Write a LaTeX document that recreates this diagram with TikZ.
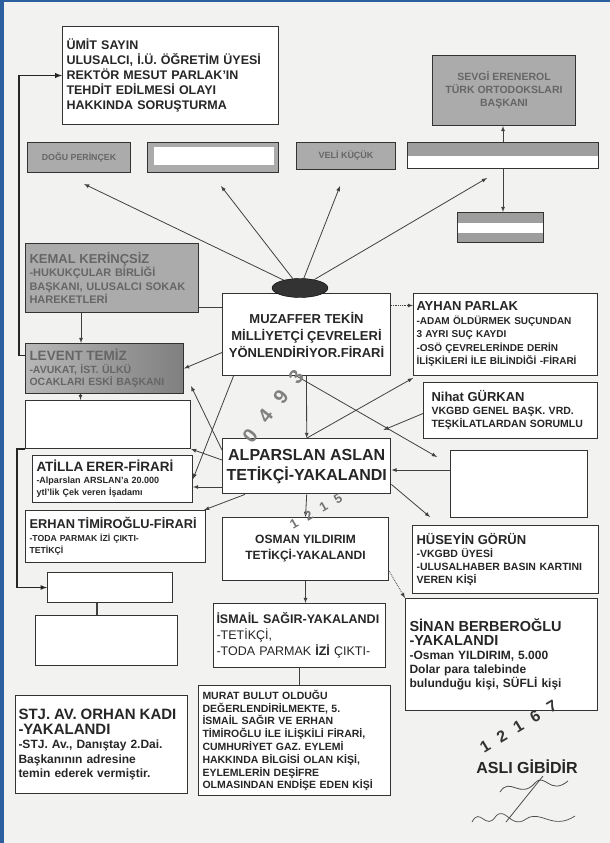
\documentclass[tikz,border=0pt]{standalone}
\usepackage{fontspec}
\setmainfont{Liberation Sans}
\usetikzlibrary{shapes.geometric,calc}
\definecolor{paper}{HTML}{F2F2F0}
\definecolor{frameblue}{HTML}{2B5F9E}
\newcommand{\fsz}[2]{\fontsize{#1}{#2}\selectfont}
\tikzset{
  box/.style={draw=black!80, line width=1pt, fill=white, anchor=north west, inner sep=3pt, text=black!85, font=\bfseries},
  greybox/.style={box, fill=black!33, text=black!60},
  link/.style={->, draw=black!75, line width=.8pt},
  conn/.style={draw=black!75, line width=.8pt},
  stamp/.style={inner sep=0pt, text=black!50, font=\bfseries\fsz{20}{20}},
}
\begin{document}
\begin{tikzpicture}[>=latex, x=1pt, y=-1pt]
\useasboundingbox (0,0) rectangle (610,843);
\fill[paper] (0,0) rectangle (610,843);
\fill[frameblue] (0,0) rectangle (4,843);
\fill[frameblue] (0,0) rectangle (610,2);

% top row
\node[box, minimum width=216pt, minimum height=98pt, text width=208pt, align=left, inner xsep=4pt, font=\bfseries\fsz{12.5}{15}] (umit) at (62,26) {ÜMİT SAYIN\\ULUSALCI, İ.Ü. ÖĞRETİM ÜYESİ\\REKTÖR MESUT PARLAK'IN\\TEHDİT EDİLMESİ OLAYI\\HAKKINDA SORUŞTURMA};
\node[greybox, minimum width=143pt, minimum height=70pt, align=center, font=\bfseries\fsz{10.5}{13}] (sevgi) at (432,55) {SEVGİ ERENEROL\\TÜRK ORTODOKSLARI\\BAŞKANI};
\node[greybox, minimum width=103pt, minimum height=30pt, font=\bfseries\fsz{8.8}{9}] (dogu) at (27,142) {DOĞU PERİNÇEK};
\node[greybox, minimum width=131pt, minimum height=30pt,
  path picture={\fill[white] ([shift={(6pt,-4pt)}]path picture bounding box.north west) rectangle ([shift={(-5pt,8pt)}]path picture bounding box.south east);}] (blankA) at (147,142) {};
\node[greybox, minimum width=99pt, minimum height=27pt, font=\bfseries\fsz{9}{9}] (veli) at (296,142) {VELİ KÜÇÜK};
\node[box, minimum width=191pt, minimum height=26pt,
  path picture={\fill[black!38] (path picture bounding box.north west) rectangle ([yshift=-13pt]path picture bounding box.north east);}] (longb) at (407,142) {};
\node[box, minimum width=86pt, minimum height=30pt,
  path picture={\fill[black!38] (path picture bounding box.north west) rectangle ([yshift=-10pt]path picture bounding box.north east);
    \fill[black!38] (path picture bounding box.south west) rectangle ([yshift=10pt]path picture bounding box.south east);}] (smallb) at (457,212) {};

% centre
\node[box, minimum width=168pt, minimum height=82pt, align=center, font=\bfseries\fsz{13}{17}] (muz) at (222,293) {MUZAFFER TEKİN\\MİLLİYETÇİ ÇEVRELERİ\\YÖNLENDİRİYOR.FİRARİ};
\node[ellipse, fill=black!80, draw=black, minimum width=56pt, minimum height=19pt, inner sep=0pt] (ell) at (300,288) {};
\node[box, line width=1.4pt, minimum width=168pt, minimum height=55pt, align=center, inner xsep=2pt, font=\bfseries\fsz{16}{20}] (alp) at (222,438) {ALPARSLAN ASLAN\\TETİKÇİ-YAKALANDI};
\node[box, minimum width=166pt, minimum height=63pt, align=center, font=\bfseries\fsz{12}{16}] (osman) at (222,517) {OSMAN YILDIRIM\\TETİKÇİ-YAKALANDI};
\node[box, minimum width=172pt, minimum height=64pt, text width=166pt, align=left, font=\fsz{12.5}{16}] (ismail) at (213,603) {\textbf{İSMAİL SAĞIR-YAKALANDI}\\-TETİKÇİ,\\-TODA PARMAK \textbf{İZİ} ÇIKTI-};
\node[box, minimum width=192pt, minimum height=110pt, text width=184pt, align=left, font=\bfseries\fsz{10.5}{12.8}] (murat) at (198,685) {MURAT BULUT OLDUĞU\\DEĞERLENDİRİLMEKTE, 5.\\İSMAİL SAĞIR VE ERHAN\\TİMİROĞLU İLE İLİŞKİLİ FİRARİ,\\CUMHURİYET GAZ. EYLEMİ\\HAKKINDA BİLGİSİ OLAN KİŞİ,\\EYLEMLERİN DEŞİFRE\\OLMASINDAN ENDİŞE EDEN KİŞİ};

% left column
\node[greybox, minimum width=173pt, minimum height=69pt, text width=165pt, align=left, font=\bfseries\fsz{11}{13.5}] (kemal) at (25,243) {{\fsz{13}{14}KEMAL KERİNÇSİZ}\\-HUKUKÇULAR BİRLİĞİ\\BAŞKANI, ULUSALCI SOKAK\\HAREKETLERİ};
\node[greybox, left color=black!28, right color=black!50, minimum width=158pt, minimum height=50pt, text width=150pt, align=left, font=\bfseries\fsz{10.5}{12.5}] (levent) at (25,343) {{\fsz{13.5}{14}LEVENT TEMİZ}\\-AVUKAT, İST. ÜLKÜ\\OCAKLARI ESKİ BAŞKANI};
\node[box, minimum width=165pt, minimum height=48pt] (blankB) at (25,400) {};
\node[box, minimum width=160pt, minimum height=47pt, text width=152pt, align=left, font=\bfseries\fsz{9}{12}] (atilla) at (32,455) {{\fsz{13.5}{13}ATİLLA ERER-FİRARİ}\\-Alparslan ARSLAN'a 20.000\\ytl'lik Çek veren İşadamı};
\node[box, minimum width=180pt, minimum height=52pt, text width=172pt, align=left, font=\bfseries\fsz{8.7}{12.5}] (erhan) at (25,510) {{\fsz{12.8}{13}ERHAN TİMİROĞLU-FİRARİ}\\-TODA PARMAK İZİ ÇIKTI-\\TETİKÇİ};
\node[box, minimum width=125pt, minimum height=30pt] (emptyA) at (47,572) {};
\node[box, minimum width=142pt, minimum height=50pt] (emptyB) at (35,615) {};
\node[box, minimum width=172pt, minimum height=98pt, text width=166pt, align=left, font=\bfseries\fsz{12}{14.5}] (stj) at (15,695) {{\fsz{15}{17}STJ. AV. ORHAN KADI}\\{\fsz{15}{17}-YAKALANDI}\\-STJ. Av., Danıştay 2.Dai.\\Başkanının adresine\\temin ederek vermiştir.};

% right column
\node[box, minimum width=184pt, minimum height=82pt, text width=178pt, align=left, font=\bfseries\fsz{10}{13.5}] (ayhan) at (413,293) {{\fsz{13}{14}AYHAN PARLAK}\\-ADAM ÖLDÜRMEK SUÇUNDAN\\3 AYRI SUÇ KAYDI\\-OSÖ ÇEVRELERİNDE DERİN\\İLİŞKİLERİ İLE BİLİNDİĞİ -FİRARİ};
\node[box, minimum width=174pt, minimum height=56pt, text width=158pt, align=left, inner xsep=8pt, font=\bfseries\fsz{10.5}{13}] (nihat) at (423,382) {{\fsz{13}{14}Nihat GÜRKAN}\\VKGBD GENEL BAŞK. VRD.\\TEŞKİLATLARDAN SORUMLU};
\node[box, minimum width=137pt, minimum height=67pt] (blankR) at (450,450) {};
\node[box, minimum width=186pt, minimum height=68pt, text width=178pt, align=left, font=\bfseries\fsz{10.5}{13}] (huseyin) at (412,525) {{\fsz{13}{14}HÜSEYİN GÖRÜN}\\-VKGBD ÜYESİ\\-ULUSALHABER BASIN KARTINI\\VEREN KİŞİ};
\node[box, minimum width=192pt, minimum height=112pt, text width=184pt, align=left, font=\bfseries\fsz{12}{14}] (sinan) at (405,598) {{\fsz{14.5}{18}SİNAN BERBEROĞLU}\\{\fsz{14.5}{18}-YAKALANDI}\\-Osman YILDIRIM, 5.000\\Dolar para talebinde\\bulunduğu kişi, SÜFLİ kişi};

% connectors
\draw[link, line width=1.4pt, draw=black!85] ([yshift=13pt]levent.west) -- ++(-6,0) |- (umit.west);
\draw[link, line width=1.2pt, draw=black!85] (blankB.south west) -- ++(-8,0) |- (emptyA.west);
\draw[conn, line width=1.4pt] ([xshift=-13pt]emptyA.south) -- ([xshift=-13pt]emptyA.south |- emptyB.north);
\draw[link] ([xshift=-31pt]kemal.south) -- ([xshift=-31pt]kemal.south |- levent.north);
\draw[link] ([xshift=-24pt]levent.south) -- ([xshift=-24pt]levent.south |- blankB.north);
\draw[conn] ([yshift=-29pt]kemal.east) -- ([yshift=-29pt]kemal.east -| muz.west);
\draw[link] ([yshift=-18pt]muz.west) -- (levent.east);
\foreach \t/\dx/\dy in {dogu/5/11, blankA/8/13, veli/-6/16, longb/-16/9}
  \draw[link] (ell) -- ($(\t.south)+(\dx,\dy)$);
\draw[link] (longb.north) -- (longb.north |- sevgi.south);
\draw[link] (longb.south) -- (longb.south |- smallb.north);
\draw[link, densely dotted] ([yshift=29pt]muz.east) -- ([yshift=29pt]muz.east -| ayhan.west);
\draw[link] (muz.south) -- (alp.north);
\draw[link] ([xshift=-10pt]muz.south) -- ($(blankR.north west)+(-13,7)$);
\draw[link] ([xshift=-73pt]muz.south) -- (atilla.east);
\draw[link] ([yshift=-12pt]alp.north west) -- ($(levent.south east)+(7,-8)$);
\draw[link] ([yshift=-22pt]alp.north west) -- (blankB.south east);
\draw[link] ([yshift=-49pt]alp.north west) -- ([yshift=-49pt]alp.north west -| atilla.east);
\draw[link] ([xshift=23pt]alp.south west) -- ($(erhan.north east)+(-2,0)$);
\draw[link] ([xshift=85pt]alp.north west) -- ($(ayhan.south west)+(0,2)$);
\draw[link] ([yshift=-3pt]nihat.west) -- ($(alp.north east)+(-8,-8)$);
\draw[link] ([yshift=-20pt]blankR.north west) -- ([yshift=-20pt]blankR.north west -| alp.east);
\draw[link] ([yshift=10pt]alp.south east) -- ($(huseyin.north west)+(18,-8)$);
\draw[link] (alp.south) -- (osman.north);
\draw[link, densely dotted] ([yshift=10pt]osman.south east) -- (sinan.north west);
\draw[link] (osman.south) -- (osman.south |- ismail.north);
\draw[conn] (ismail.south) -- (ismail.south |- murat.north);

% stamps and signature
\foreach \d [count=\i from 0] in {0,4,9,3}
  \node[stamp, rotate=52] (stampA\i) at ($(250,436)+\i*(15.4,-19.7)$) {\d};
\foreach \d [count=\i from 0] in {1,2,1,5}
  \node[stamp, rotate=30, text=black!55, font=\bfseries\fsz{13}{13}] (stampB\i) at ($(294,524)+\i*(14.7,-8.5)$) {\d};
\foreach \d [count=\i from 0] in {1,2,1,6,7}
  \node[stamp, rotate=31, text=black!80, font=\bfseries\fsz{16}{16}] (stampC\i) at ($(485,746)+\i*(16.7,-10)$) {\d};
\node[text=black!85, font=\bfseries\fsz{16}{16}] (asli) at (527,767) {ASLI GİBİDİR};
\draw[black!70, line width=.8pt] (500,792) .. controls (510,776) and (520,800) .. (535,783) .. controls (545,772) and (550,796) .. (568,781);
\draw[black!70, line width=.8pt] (543,776) -- (506,822);
\draw[black!70, line width=.7pt] (472,822) .. controls (480,806) and (486,832) .. (496,816) .. controls (506,806) and (511,830) .. (526,819) .. controls (541,809) and (552,831) .. (575,816);
\end{tikzpicture}
\end{document}
